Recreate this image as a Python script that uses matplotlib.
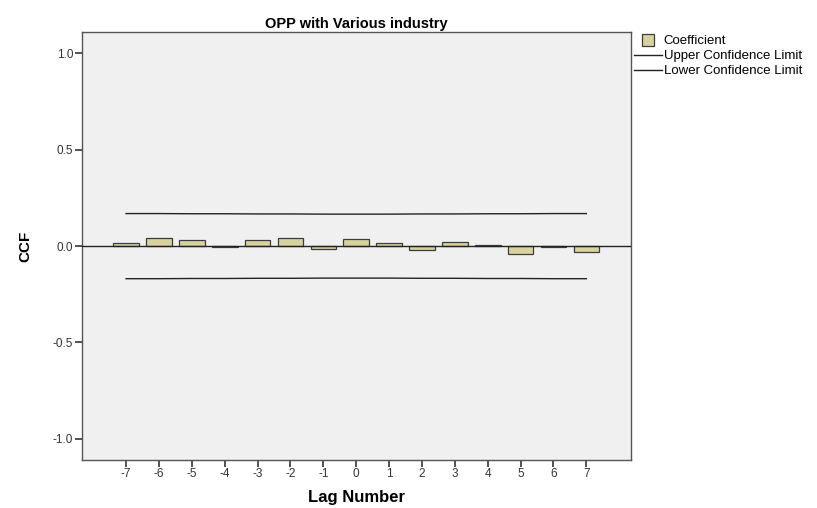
import matplotlib
matplotlib.use("Agg")
import matplotlib.pyplot as plt
from matplotlib.lines import Line2D

plt.rcParams['font.family'] = ['Liberation Sans', 'DejaVu Sans']

lags = [-7, -6, -5, -4, -3, -2, -1, 0, 1, 2, 3, 4, 5, 6, 7]
coef = [0.016, 0.042, 0.032, -0.002, 0.031, 0.043, -0.017, 0.039, 0.016, -0.018,
        0.024, 0.007, -0.040, -0.006, -0.029]
upper = [0.169, 0.169, 0.168, 0.168, 0.167, 0.167, 0.166, 0.166, 0.166, 0.167,
         0.167, 0.168, 0.168, 0.169, 0.169]
lower = [-0.169, -0.169, -0.168, -0.168, -0.167, -0.167, -0.166, -0.166, -0.166, -0.167,
         -0.167, -0.168, -0.168, -0.169, -0.169]
yticks = [-1.0, -0.5, 0.0, 0.5, 1.0]

fig = plt.figure(figsize=(8.17, 5.08), dpi=100)
ax = fig.add_axes([0.1, 0.0945, 0.672, 0.842])
ax.set_facecolor('#f0f0f0')

bar_fc = '#d8d29e'
bar_ec = '#3c3c3c'
ax.bar(lags, coef, width=0.78, color=bar_fc, edgecolor=bar_ec, linewidth=0.9, zorder=2)
ax.axhline(0, color='#222222', linewidth=1.0, zorder=3)
ax.plot(lags, upper, color='#222222', linewidth=1.0, zorder=3)
ax.plot(lags, lower, color='#222222', linewidth=1.0, zorder=3)

ax.set_xlim(-8.35, 8.35)
ax.set_ylim(-1.11, 1.11)
ax.set_xticks(lags)
ax.set_xticklabels([str(l) for l in lags])
ax.set_yticks(yticks)
ax.set_yticklabels(['%.1f' % v for v in yticks])
ax.tick_params(axis='both', direction='out', length=5, width=1.2, color='#333333',
               labelsize=8.5, labelcolor='#333333', pad=1)
for s in ax.spines.values():
    s.set_color('#555555')
    s.set_linewidth(1.0)

ax.set_title('OPP with Various industry', fontsize=10.5, fontweight='bold', pad=3)
ax.set_xlabel('Lag Number', fontsize=12, fontweight='bold', labelpad=7)
ax.set_ylabel('CCF', fontsize=11, fontweight='bold', labelpad=15)

handles = [
    Line2D([], [], linestyle='none', marker='s', markersize=8,
           markerfacecolor=bar_fc, markeredgecolor=bar_ec, markeredgewidth=0.9),
    Line2D([], [], color='#222222', linewidth=1.0),
    Line2D([], [], color='#222222', linewidth=1.0),
]
labels = ['Coefficient', 'Upper Confidence Limit', 'Lower Confidence Limit']
fig.legend(handles, labels, loc='upper left', bbox_to_anchor=(0.773, 0.936),
           frameon=False, fontsize=9.5, handlelength=2.1, handletextpad=0.15,
           labelspacing=0.2, borderaxespad=0, borderpad=0.2)

fig.savefig('out.png', dpi=100, facecolor='white')
